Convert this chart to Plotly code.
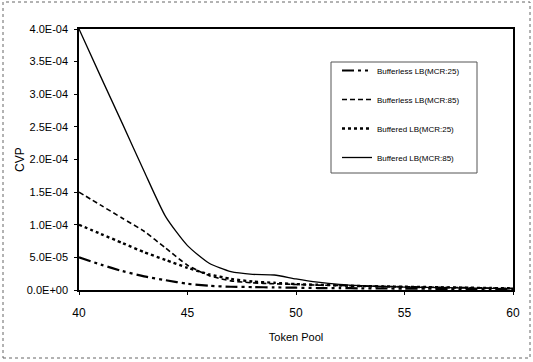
import plotly.graph_objects as go

token_pool = [40, 41, 42, 43, 44, 45, 46, 47, 48, 49, 50, 51, 52, 53, 54, 55, 56, 57, 58, 59, 60]

bufferless_25 = [5.0e-5, 3.9e-5, 2.9e-5, 2.1e-5, 1.5e-5, 9.5e-6, 6.5e-6, 5e-6, 4.5e-6, 4e-6, 3.5e-6,
                 3e-6, 3e-6, 2.5e-6, 2.5e-6, 2e-6, 2e-6, 1.5e-6, 1.5e-6, 1.5e-6, 1e-6]
bufferless_85 = [1.5e-4, 1.3e-4, 1.1e-4, 9.0e-5, 6.4e-5, 3.8e-5, 2.2e-5, 1.4e-5, 1.1e-5, 9.5e-6, 8.5e-6,
                 7.5e-6, 7e-6, 6e-6, 5.5e-6, 5e-6, 4.5e-6, 4e-6, 3.5e-6, 3e-6, 2.5e-6]
buffered_25 = [1.0e-4, 8.6e-5, 7.2e-5, 5.8e-5, 4.6e-5, 3.4e-5, 2.4e-5, 1.7e-5, 1.3e-5, 1.1e-5, 9e-6,
               8e-6, 7e-6, 6e-6, 5.5e-6, 5e-6, 4.5e-6, 4e-6, 3.5e-6, 3e-6, 2.5e-6]
buffered_85 = [4.0e-4, 3.27e-4, 2.55e-4, 1.82e-4, 1.12e-4, 6.8e-5, 4.1e-5, 2.8e-5, 2.4e-5, 2.3e-5, 1.7e-5,
               1.2e-5, 8.5e-6, 6.5e-6, 5.5e-6, 4.5e-6, 4e-6, 3.5e-6, 3e-6, 2.5e-6, 2e-6]

series_names = ["Bufferless LB(MCR:25)", "Bufferless LB(MCR:85)",
                "Buffered LB(MCR:25)", "Buffered LB(MCR:85)"]

y_tickvals = [0, 5e-5, 1e-4, 1.5e-4, 2e-4, 2.5e-4, 3e-4, 3.5e-4, 4e-4]
y_ticktext = ["0.0E+00", "5.0E-05", "1.0E-04", "1.5E-04", "2.0E-04",
              "2.5E-04", "3.0E-04", "3.5E-04", "4.0E-04"]
x_tickvals = [40, 45, 50, 55, 60]
y_title = "CVP"
x_title = "Token Pool"

FONT = "Liberation Sans, Arial, sans-serif"

fig = go.Figure()
styles = [
    dict(dash="12px,4px,3px,4px,3px,4px", width=2.2),
    dict(dash="5px,3px", width=1.6),
    dict(dash="dot", width=2.4),
    dict(dash="solid", width=1.3),
]
for name, ys, st in zip(series_names, [bufferless_25, bufferless_85, buffered_25, buffered_85], styles):
    fig.add_trace(go.Scatter(
        x=token_pool, y=ys, mode="lines", name=name, legendgroup=name,
        line=dict(color="black", width=st["width"], dash=st["dash"], shape="spline", smoothing=0.6),
    ))

L, R, T, B = 79, 20, 29, 72
W, H = 533, 362
pw, ph = W - L - R, H - T - B


def px_x(p):
    return (p - L) / pw


def px_y(p):
    return (ph - (p - T)) / ph


fig.update_layout(
    width=W, height=H,
    margin=dict(l=L, r=R, t=T, b=B),
    paper_bgcolor="white", plot_bgcolor="white",
    font=dict(family=FONT, color="black", size=11),
    showlegend=True,
    legend=dict(
        x=px_x(337), y=px_y(56), xanchor="left", yanchor="top",
        bgcolor="rgba(0,0,0,0)", borderwidth=0,
        font=dict(size=8, family=FONT), tracegroupgap=10,
        itemwidth=30,
    ),
    xaxis=dict(
        range=[40, 60], tickvals=x_tickvals, showgrid=False, zeroline=False,
        showline=True, linecolor="black", linewidth=1.5, mirror=True,
        ticks="outside", ticklen=3, tickcolor="black", ticklabelstandoff=8,
        tickfont=dict(size=12),
        title=dict(text=x_title, font=dict(size=11), standoff=14),
    ),
    yaxis=dict(
        range=[0, 4e-4], tickvals=y_tickvals, ticktext=y_ticktext, showgrid=False, zeroline=False,
        showline=True, linecolor="black", linewidth=1.5, mirror=True,
        ticks="outside", ticklen=3, tickcolor="black", ticklabelstandoff=4,
        tickfont=dict(size=11),
    ),
    annotations=[dict(
        text=y_title, xref="paper", yref="paper", x=px_x(20), y=px_y(160),
        xanchor="center", yanchor="middle", textangle=-90, showarrow=False,
        font=dict(size=12, family=FONT),
    )],
    shapes=[
        dict(type="rect", xref="paper", yref="paper",
             x0=px_x(3), x1=px_x(530), y0=px_y(358), y1=px_y(2),
             line=dict(color="#666", width=1, dash="dot"), fillcolor="rgba(0,0,0,0)", layer="below"),
        dict(type="rect", xref="paper", yref="paper",
             x0=px_x(331), x1=px_x(477), y0=px_y(173), y1=px_y(62),
             line=dict(color="#555", width=1), fillcolor="white", layer="below"),
    ],
)

fig.write_html("out.html", config={"displayModeBar": False},
               post_script="document.body.style.margin='0';")
